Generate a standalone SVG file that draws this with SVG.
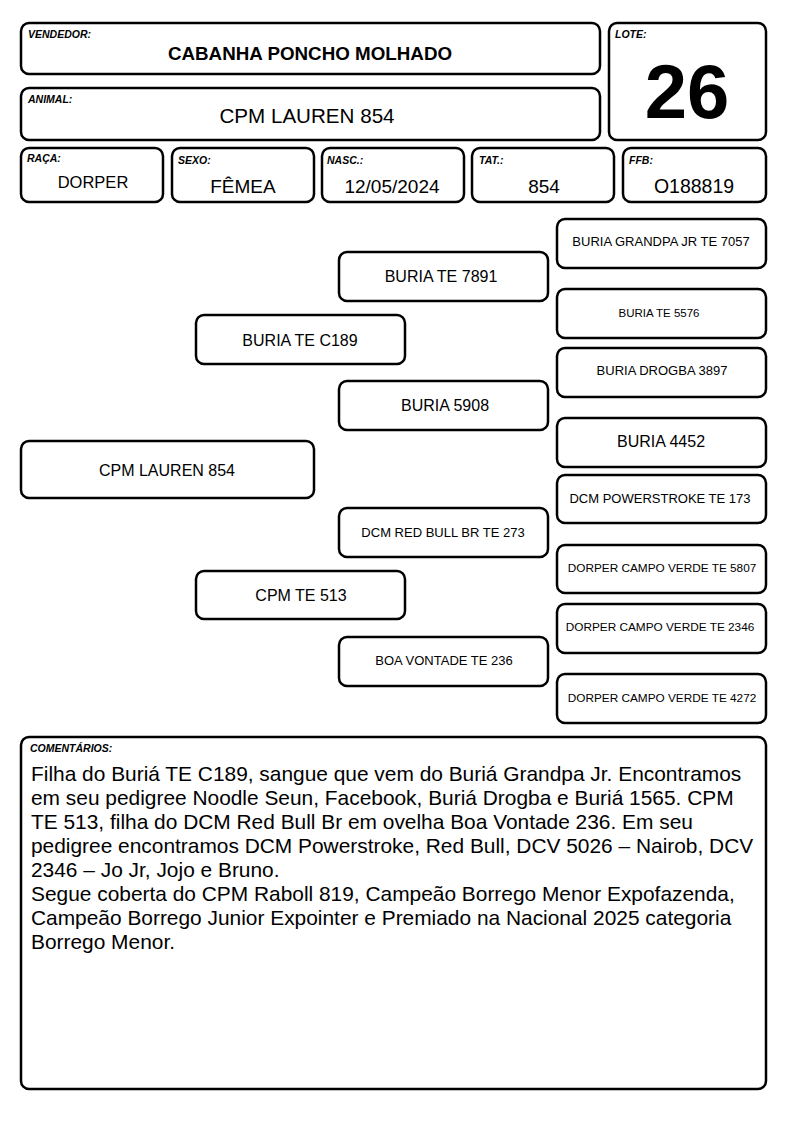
<svg xmlns="http://www.w3.org/2000/svg" width="794" height="1123" viewBox="0 0 794 1123">
<style>
.b{fill:#fff;stroke:#000;stroke-width:2.5}
.lb{font-family:"Liberation Sans",Arial,sans-serif;font-size:10.5px;font-weight:bold;font-style:italic;fill:#000}
.t{font-family:"Liberation Sans",Arial,sans-serif;fill:#000;text-anchor:middle}
.c{font-family:"Liberation Sans",Arial,sans-serif;font-size:20.9px;fill:#000}
</style>
<rect width="794" height="1123" fill="#fff"/>
<g id="vendedor"><rect class="b" x="21" y="23" width="579" height="51" rx="8"/><text class="lb" x="28" y="38">VENDEDOR:</text><text class="t" x="310" y="60" font-size="18.8" font-weight="bold">CABANHA PONCHO MOLHADO</text></g>
<g id="animal"><rect class="b" x="21" y="88" width="579" height="52" rx="8"/><text class="lb" x="28" y="103">ANIMAL:</text><text class="t" x="307" y="123" font-size="20.6">CPM LAUREN 854</text></g>
<g id="lote"><rect class="b" x="609" y="23" width="157" height="117" rx="8"/><text class="lb" x="615" y="38">LOTE:</text><text class="t" x="687" y="118" font-size="76" font-weight="bold">26</text></g>
<g id="raca"><rect class="b" x="21" y="148" width="142" height="54" rx="8"/><text class="lb" x="27" y="162">RAÇA:</text><text class="t" x="93" y="188" font-size="16.5">DORPER</text></g>
<g id="sexo"><rect class="b" x="172" y="148" width="142" height="54" rx="8"/><text class="lb" x="178" y="164">SEXO:</text><text class="t" x="243" y="193" font-size="19">FÊMEA</text></g>
<g id="nasc"><rect class="b" x="322" y="148" width="142" height="54" rx="8"/><text class="lb" x="327" y="164">NASC.:</text><text class="t" x="392" y="193" font-size="19">12/05/2024</text></g>
<g id="tat"><rect class="b" x="472" y="148" width="142" height="54" rx="8"/><text class="lb" x="479" y="164">TAT.:</text><text class="t" x="544" y="193" font-size="19">854</text></g>
<g id="ffb"><rect class="b" x="623" y="148" width="143" height="54" rx="8"/><text class="lb" x="629" y="164">FFB:</text><text class="t" x="694" y="193" font-size="19.5">O188819</text></g>
<g id="connectors"></g>
<g id="p0"><rect class="b" x="21" y="441" width="293" height="57" rx="8"/><text class="t" x="167" y="476" font-size="16">CPM LAUREN 854</text></g>
<g id="p1"><rect class="b" x="196" y="315" width="209" height="49" rx="8"/><text class="t" x="300" y="346" font-size="16">BURIA TE C189</text></g>
<g id="p2"><rect class="b" x="196" y="571" width="209" height="48" rx="8"/><text class="t" x="301" y="601" font-size="16">CPM TE 513</text></g>
<g id="p3"><rect class="b" x="339" y="252" width="209" height="49" rx="8"/><text class="t" x="441" y="282" font-size="16">BURIA TE 7891</text></g>
<g id="p4"><rect class="b" x="339" y="381" width="209" height="49" rx="8"/><text class="t" x="445" y="411" font-size="16">BURIA 5908</text></g>
<g id="p5"><rect class="b" x="339" y="508" width="209" height="49" rx="8"/><text class="t" x="443" y="537" font-size="13">DCM RED BULL BR TE 273</text></g>
<g id="p6"><rect class="b" x="339" y="637" width="209" height="49" rx="8"/><text class="t" x="444" y="665" font-size="13">BOA VONTADE TE 236</text></g>
<g id="p7"><rect class="b" x="557" y="219" width="209" height="49" rx="8"/><text class="t" x="661" y="246" font-size="13">BURIA GRANDPA JR TE 7057</text></g>
<g id="p8"><rect class="b" x="557" y="289" width="209" height="49" rx="8"/><text class="t" x="659" y="317" font-size="11.5">BURIA TE 5576</text></g>
<g id="p9"><rect class="b" x="557" y="348" width="209" height="49" rx="8"/><text class="t" x="662" y="375" font-size="13">BURIA DROGBA 3897</text></g>
<g id="p10"><rect class="b" x="557" y="418" width="209" height="49" rx="8"/><text class="t" x="661" y="447" font-size="16">BURIA 4452</text></g>
<g id="p11"><rect class="b" x="557" y="475" width="209" height="48" rx="8"/><text class="t" x="660" y="503" font-size="13">DCM POWERSTROKE TE 173</text></g>
<g id="p12"><rect class="b" x="557" y="545" width="209" height="48" rx="8"/><text class="t" x="662" y="572" font-size="11.8">DORPER CAMPO VERDE TE 5807</text></g>
<g id="p13"><rect class="b" x="557" y="604" width="209" height="49" rx="8"/><text class="t" x="660" y="631" font-size="11.8">DORPER CAMPO VERDE TE 2346</text></g>
<g id="p14"><rect class="b" x="557" y="674" width="209" height="49" rx="8"/><text class="t" x="662" y="702" font-size="11.8">DORPER CAMPO VERDE TE 4272</text></g>
<g id="comentarios"><rect class="b" x="21" y="737" width="745" height="352" rx="8"/><text class="lb" x="30" y="752">COMENTÁRIOS:</text>
<text class="c" x="31" y="781">Filha do Buriá TE C189, sangue que vem do Buriá Grandpa Jr. Encontramos</text>
<text class="c" x="31" y="805">em seu pedigree Noodle Seun, Facebook, Buriá Drogba e Buriá 1565. CPM</text>
<text class="c" x="31" y="829">TE 513, filha do DCM Red Bull Br em ovelha Boa Vontade 236. Em seu</text>
<text class="c" x="31" y="853">pedigree encontramos DCM Powerstroke, Red Bull, DCV 5026 – Nairob, DCV</text>
<text class="c" x="31" y="877">2346 – Jo Jr, Jojo e Bruno.</text>
<text class="c" x="31" y="901">Segue coberta do CPM Raboll 819, Campeão Borrego Menor Expofazenda,</text>
<text class="c" x="31" y="925">Campeão Borrego Junior Expointer e Premiado na Nacional 2025 categoria</text>
<text class="c" x="31" y="949">Borrego Menor.</text>
</g>
</svg>
